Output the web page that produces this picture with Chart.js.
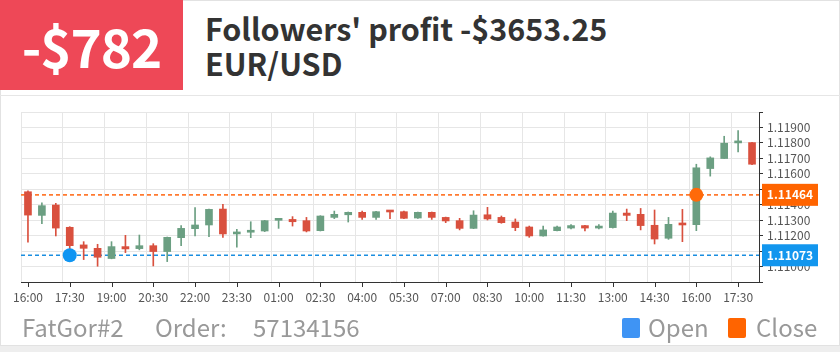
<!DOCTYPE html>
<html>
<head>
<meta charset="utf-8">
<script src="https://cdn.jsdelivr.net/npm/chart.js@4.4.1/dist/chart.umd.min.js"></script>
<style>
  body { margin: 0; width: 840px; height: 352px; background: #eeeeee; overflow: hidden; position: relative;
         font-family: "Noto Sans CJK SC", "Noto Sans", sans-serif; }
  .card { position: absolute; left: 0; top: 0; width: 838px; height: 344px; background: #fff; border: 1px solid #e2e2e2; }
  .loss { position: absolute; left: 0; top: 0; width: 183px; height: 90px; background: #ee4857; color: #fff;
          font-weight: 700; font-size: 53px; text-align: center; line-height: 90px; letter-spacing: -1px; }
  .title { position: absolute; left: 205px; top: 11px; font-size: 30.5px; font-weight: 700; color: #333; line-height: 35px; }
  .sep { position: absolute; left: 0; top: 95px; width: 840px; height: 1px; background: #e6e6e6; }
  .chartbox { position: absolute; left: 0; top: 100px; width: 840px; height: 215px; }
  .foot { position: absolute; top: 312px; font-size: 24px; color: #999; line-height: 30px; white-space: nowrap; }
  .sq { position: absolute; top: 318px; width: 18px; height: 20px; border-radius: 2px; }
</style>
</head>
<body>
<div class="card"></div>
<div class="loss">-$782</div>
<div class="title">Followers' profit -$3653.25<br>EUR/USD</div>
<div class="sep"></div>
<div class="chartbox"><canvas id="cv"></canvas></div>
<div class="foot" style="left:22px">FatGor#2</div>
<div class="foot" style="left:155px">Order:</div>
<div class="foot" style="left:253px">57134156</div>
<div class="sq" style="left:622px;background:#3f94f4"></div>
<div class="foot" style="left:648px">Open</div>
<div class="sq" style="left:728px;background:#ff6400"></div>
<div class="foot" style="left:756px">Close</div>
<script>
const labels = [
  "16:00","16:30","17:00","17:30","18:00","18:30","19:00","19:30","20:00","20:30","21:00","21:30",
  "22:00","22:30","23:00","23:30","00:00","00:30","01:00","01:30","02:00","02:30","03:00","03:30",
  "04:00","04:30","05:00","05:30","06:00","06:30","07:00","07:30","08:00","08:30","09:00","09:30",
  "10:00","10:30","11:00","11:30","12:00","12:30","13:00","13:30","14:00","14:30","15:00","15:30",
  "16:00","16:30","17:00","17:30","18:00"
];
const opens = [
  1.11484,1.11331,1.11398,1.11254,1.11140,1.11118,1.11052,1.11129,1.11116,1.11135,1.11097,1.11187,
  1.11245,1.11269,1.11372,1.11211,1.11222,1.11230,1.11299,1.11305,1.11297,1.11232,1.11318,1.11335,
  1.11351,1.11318,1.11357,1.11355,1.11314,1.11351,1.11318,1.11297,1.11247,1.11335,1.11318,1.11288,
  1.11256,1.11198,1.11232,1.11249,1.11265,1.11249,1.11252,1.11346,1.11338,1.11267,1.11183,1.11275,
  1.11271,1.11634,1.11699,1.11800,1.11802
];
const highs = [
  1.11490,1.11413,1.11409,1.11258,1.11161,1.11144,1.11161,1.11202,1.11204,1.11148,1.11191,1.11265,
  1.11381,1.11372,1.11402,1.11241,1.11290,1.11299,1.11302,1.11323,1.11318,1.11329,1.11359,1.11353,
  1.11359,1.11357,1.11358,1.11359,1.11353,1.11353,1.11320,1.11312,1.11361,1.11383,1.11327,1.11308,
  1.11262,1.11262,1.11262,1.11271,1.11267,1.11271,1.11359,1.11372,1.11376,1.11366,1.11318,1.11370,
  1.11662,1.11710,1.11843,1.11880,1.11804
];
const lows = [
  1.11157,1.11277,1.11198,1.11066,1.11045,1.11002,1.11050,1.11090,1.11108,1.11004,1.11032,1.11135,
  1.11198,1.11194,1.11189,1.11125,1.11187,1.11226,1.11247,1.11262,1.11224,1.11230,1.11310,1.11288,
  1.11305,1.11305,1.11310,1.11310,1.11312,1.11305,1.11284,1.11237,1.11245,1.11301,1.11280,1.11232,
  1.11189,1.11196,1.11230,1.11243,1.11230,1.11243,1.11249,1.11297,1.11237,1.11146,1.11176,1.11161,
  1.11232,1.11585,1.11699,1.11742,1.11660
];
const closes = [
  1.11333,1.11394,1.11249,1.11135,1.11118,1.11060,1.11129,1.11114,1.11135,1.11097,1.11189,1.11247,
  1.11269,1.11370,1.11211,1.11222,1.11234,1.11297,1.11301,1.11290,1.11230,1.11327,1.11338,1.11351,
  1.11318,1.11355,1.11353,1.11312,1.11351,1.11318,1.11295,1.11247,1.11333,1.11308,1.11284,1.11252,
  1.11198,1.11237,1.11256,1.11265,1.11249,1.11256,1.11346,1.11331,1.11265,1.11178,1.11273,1.11269,
  1.11639,1.11703,1.11798,1.11802,1.11662
];
const yTicks = { min: 1.109, max: 1.120, step: 0.001 };

// trade markers
const openIdx = 3, openPrice = 1.11073;
const closeIdx = 48, closePrice = 1.11464;

const UP = "#6b9f82", DOWN = "#d9503e";
const BLUE = "#0f95f2", ORANGE = "#ff6a0a";

const candleColors = opens.map((o, i) => closes[i] >= o ? UP : DOWN);

// dashed price lines behind the candles
const priceLines = {
  id: "priceLines",
  beforeDatasetsDraw(chart) {
    const { ctx, chartArea } = chart;
    const y = chart.scales.y;
    ctx.save();
    ctx.lineWidth = 1.6;
    ctx.setLineDash([4, 3]);
    [[openPrice, "#1a8ee0"], [closePrice, "#ff7a30"]].forEach(([p, c]) => {
      const py = y.getPixelForValue(p);
      ctx.strokeStyle = c;
      ctx.beginPath();
      ctx.moveTo(chartArea.left, py);
      ctx.lineTo(chartArea.right, py);
      ctx.stroke();
    });
    ctx.restore();
  }
};

// badges on the right axis + small x tick marks
const axisMarks = {
  id: "axisMarks",
  afterDraw(chart) {
    const { ctx, chartArea } = chart;
    const y = chart.scales.y, x = chart.scales.x;
    ctx.save();
    ctx.strokeStyle = "#333";
    ctx.lineWidth = 1;
    for (let i = 0; i < labels.length; i += 3) {
      const px = Math.round(x.getPixelForValue(i)) + 0.5;
      ctx.beginPath();
      ctx.moveTo(px, chartArea.bottom);
      ctx.lineTo(px, chartArea.bottom + 5);
      ctx.stroke();
    }
    [[openPrice, "#1296ee"], [closePrice, "#ff6400"]].forEach(([p, c]) => {
      const py = y.getPixelForValue(p);
      ctx.fillStyle = c;
      ctx.fillRect(chartArea.right + 3, py - 11, 56, 22);
      ctx.fillStyle = "#fff";
      ctx.font = "bold 12px 'Noto Sans CJK SC', sans-serif";
      ctx.textAlign = "center";
      ctx.textBaseline = "middle";
      ctx.fillText(p.toFixed(5), chartArea.right + 31, py);
    });
    ctx.restore();
  }
};

new Chart(document.getElementById("cv"), {
  type: "bar",
  data: {
    labels,
    datasets: [
      {
        label: "Open",
        type: "line",
        data: labels.map((_, i) => i === openIdx ? openPrice : null),
        showLine: false,
        pointRadius: 7,
        pointBackgroundColor: BLUE,
        pointBorderWidth: 0,
        order: 0
      },
      {
        label: "Close",
        type: "line",
        data: labels.map((_, i) => i === closeIdx ? closePrice : null),
        showLine: false,
        pointRadius: 7,
        pointBackgroundColor: ORANGE,
        pointBorderWidth: 0,
        order: 0
      },
      {
        label: "body",
        data: labels.map((_, i) => [opens[i], closes[i]]),
        backgroundColor: candleColors,
        barThickness: 7,
        minBarLength: 2,
        grouped: false,
        order: 1
      },
      {
        label: "wick",
        data: labels.map((_, i) => [lows[i], highs[i]]),
        backgroundColor: candleColors,
        barThickness: 1,
        grouped: false,
        order: 2
      }
    ]
  },
  options: {
    responsive: true,
    maintainAspectRatio: false,
    animation: false,
    events: [],
    layout: { padding: { left: 21, top: 12, right: 11, bottom: 8 } },
    plugins: { legend: { display: false }, tooltip: { enabled: false } },
    scales: {
      x: {
        type: "category",
        offset: true,
        grid: {
          offset: true,
          drawTicks: false,
          color: (c) => (c.index % 3 === 0 ? "#e6e6e6" : "rgba(0,0,0,0)")
        },
        border: { color: "#333" },
        ticks: {
          autoSkip: false,
          maxRotation: 0,
          minRotation: 0,
          padding: 8,
          color: "#555",
          font: { size: 12, family: "'Noto Sans CJK SC', sans-serif" },
          callback: (v, i) => (i % 3 === 0 ? labels[i] : "")
        },
        afterFit: (s) => { s.height = 25; }
      },
      y: {
        position: "right",
        min: yTicks.min,
        max: yTicks.max,
        grid: { color: "#e6e6e6", tickColor: "#333", tickLength: 4 },
        border: { color: "#333" },
        ticks: {
          stepSize: yTicks.step,
          autoSkip: false,
          padding: 4,
          color: "#555",
          font: { size: 12, family: "'Noto Sans CJK SC', sans-serif" },
          callback: (v, i, t) => (i === 0 || i === t.length - 1 ? "" : v.toFixed(5))
        },
        afterFit: (s) => { s.width = 70; }
      }
    }
  },
  plugins: [priceLines, axisMarks]
});
</script>
</body>
</html>
